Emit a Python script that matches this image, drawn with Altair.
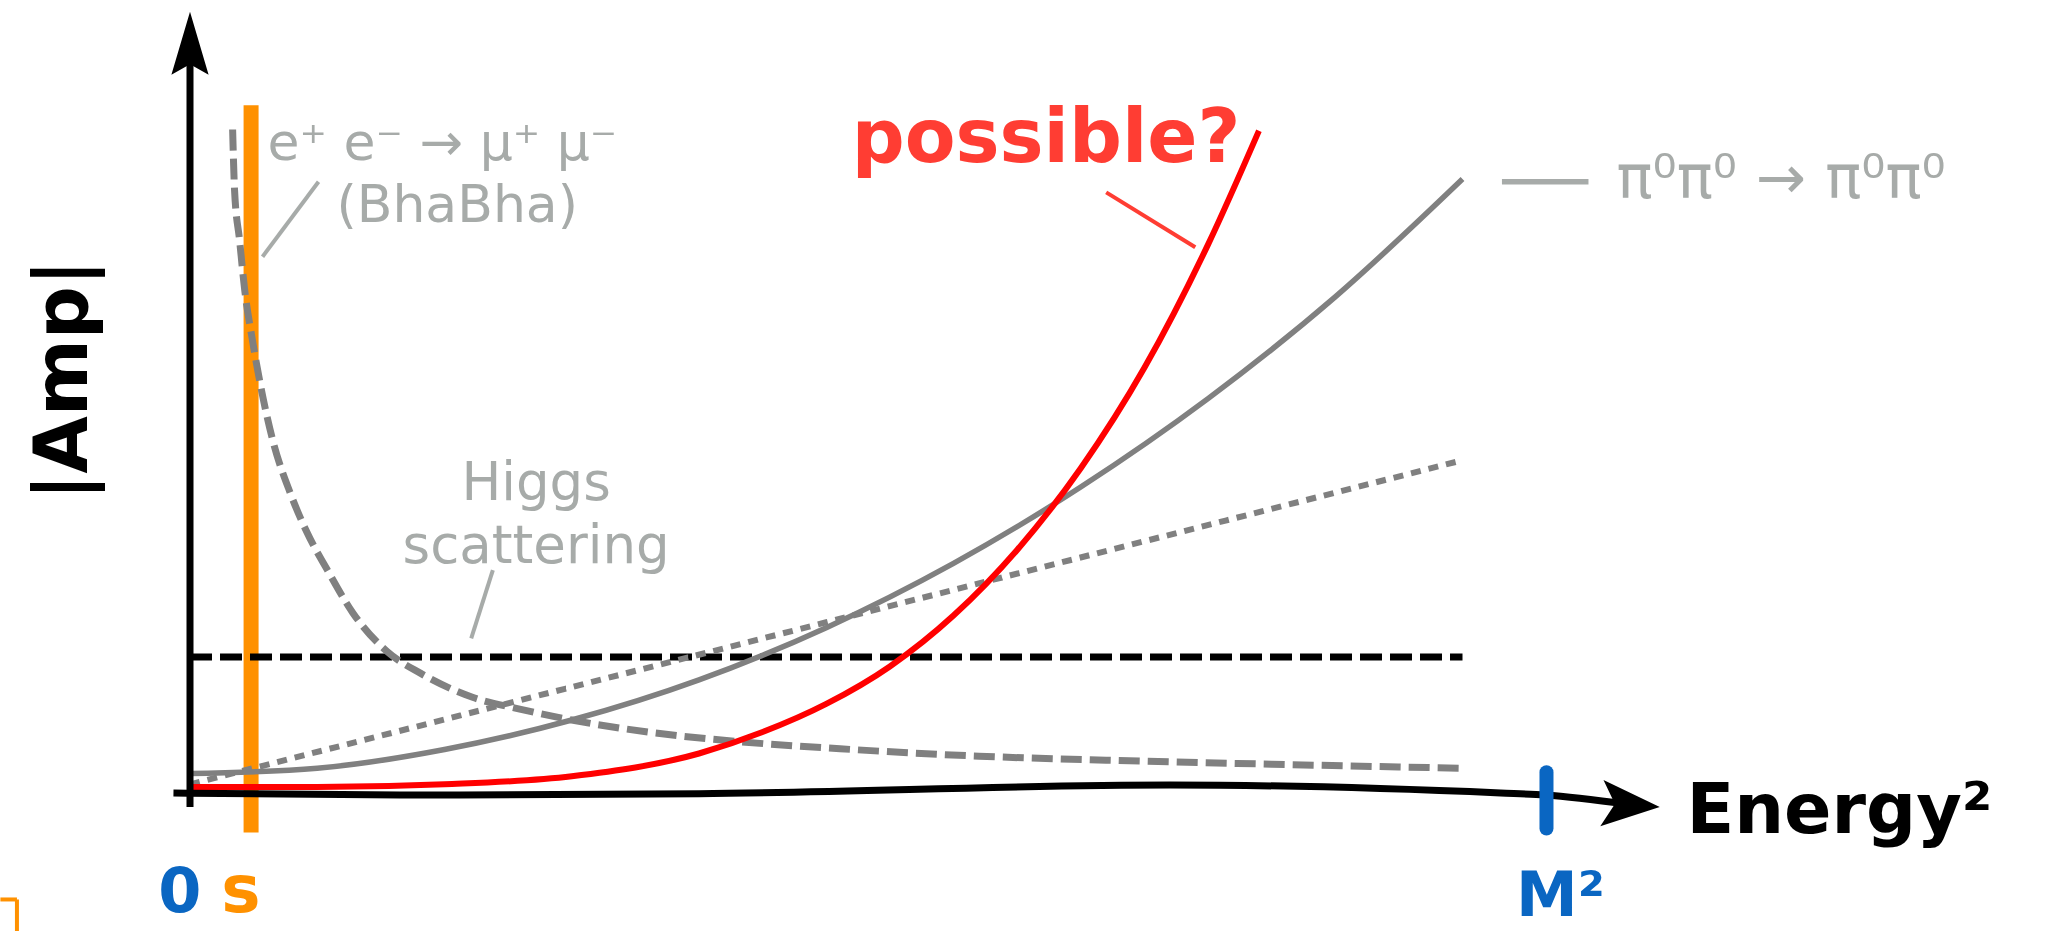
import altair as alt
import pandas as pd

# Energy^2 on the horizontal axis, |Amp| on the vertical one (arbitrary units,
# the unitarity bound sits at |Amp| = 1).
bound_energy = [0, 10]
bound_amp = [1, 1]

# e+ e- -> mu+ mu- : falls off like 1/s
bhabha_energy = [0.335, 0.35, 0.39, 0.43, 0.49, 0.55, 0.65, 0.79, 0.92, 1.08, 1.28, 1.55,
                 1.81, 2.22, 2.6, 3.0, 3.6, 4.3, 5.2, 6.2, 7.2, 8.5, 10.0]
bhabha_amp = [4.94, 4.49, 4.11, 3.74, 3.37, 3.05, 2.62, 2.22, 1.93, 1.65, 1.33, 1.04,
              0.88, 0.70, 0.61, 0.53, 0.44, 0.37, 0.31, 0.26, 0.23, 0.20, 0.17]

# Higgs scattering: grows linearly
higgs_energy = [0, 5, 10]
higgs_amp = [0.05, 1.26, 2.47]

# pi0 pi0 -> pi0 pi0: grows like s^2
pion_energy = [0, 1, 2, 3, 4, 5, 6, 7, 8, 9, 10]
pion_amp = [0.13, 0.17, 0.31, 0.53, 0.83, 1.22, 1.70, 2.27, 2.93, 3.69, 4.57]

# the "possible?" curve: steep rise
steep_energy = [0, 1, 2, 3, 4, 4.5, 5, 5.5, 6, 6.5, 7, 7.5, 8, 8.4]
steep_amp = [0.03, 0.03, 0.05, 0.11, 0.28, 0.44, 0.65, 0.93, 1.31, 1.80, 2.41, 3.16, 4.08, 4.93]

# hand-drawn energy axis (slightly wavy)
axis_energy = [-0.13, 1.65, 4.0, 7.7, 10.3, 10.65, 11.3]
axis_amp = [-0.015, -0.03, -0.02, 0.045, -0.015, -0.03, -0.1]

s_energy = 0.48     # the scale s
m2_energy = 10.66   # the heavy mass M^2

GRAY = "#808080"
NOTE = "#a7aba9"
RED = "#ff0000"
RED_TEXT = "#ff3d33"
ORANGE = "#ff9100"
BLUE = "#0a66c2"
FONT = "DejaVu Sans"

XS = alt.Scale(domain=[0, 12], nice=False, zero=False)
YS = alt.Scale(domain=[0, 5.75], nice=False, zero=False)


def curve(xs, ys, **style):
    df = pd.DataFrame({"energy": xs, "amp": ys})
    return alt.Chart(df).mark_line(interpolate="monotone", **style).encode(
        x=alt.X("energy:Q", scale=XS, axis=None),
        y=alt.Y("amp:Q", scale=YS, axis=None),
    )


def segment(x1, y1, x2, y2, **style):
    df = pd.DataFrame({"x1": [x1], "y1": [y1], "x2": [x2], "y2": [y2]})
    return alt.Chart(df).mark_rule(**style).encode(
        x=alt.X("x1:Q", scale=XS, axis=None),
        y=alt.Y("y1:Q", scale=YS, axis=None),
        x2="x2:Q",
        y2="y2:Q",
    )


def label(text, x, y, **style):
    df = pd.DataFrame({"x": [x], "y": [y], "t": [text]})
    return alt.Chart(df).mark_text(font=FONT, **style).encode(
        x=alt.X("x:Q", scale=XS, axis=None),
        y=alt.Y("y:Q", scale=YS, axis=None),
        text="t:N",
    )


def arrowhead(x, y, shape, size, angle=0):
    df = pd.DataFrame({"x": [x], "y": [y]})
    return alt.Chart(df).mark_point(
        shape=shape, size=size, angle=angle, filled=True, opacity=1,
        color="black", strokeWidth=0,
    ).encode(
        x=alt.X("x:Q", scale=XS, axis=None),
        y=alt.Y("y:Q", scale=YS, axis=None),
    )


layers = [
    # the scale s
    segment(s_energy, -0.31, s_energy, 5.12, color=ORANGE, strokeWidth=15),
    # small orange corner at the lower left
    segment(-1.49, -0.81, -1.36, -0.81, color=ORANGE, strokeWidth=4),
    segment(-1.36, -0.81, -1.36, -1.06, color=ORANGE, strokeWidth=4),
    # unitarity bound
    curve(bound_energy, bound_amp, color="black", strokeWidth=7, strokeDash=[22, 8]),
    curve(bhabha_energy, bhabha_amp, color=GRAY, strokeWidth=7, strokeDash=[21, 8]),
    curve(higgs_energy, higgs_amp, color=GRAY, strokeWidth=6, strokeDash=[10, 8]),
    curve(pion_energy, pion_amp, color=GRAY, strokeWidth=5.5),
    curve(steep_energy, steep_amp, color=RED, strokeWidth=6),
    # axes
    segment(0, -0.12, 0, 5.5, color="black", strokeWidth=7),
    curve(axis_energy, axis_amp, color="black", strokeWidth=7),
    arrowhead(0, 5.82, "M0,0 L-0.62,2.1 L0,1.75 L0.62,2.1 Z", 3600),
    arrowhead(11.55, -0.12, "M0,0 L-2,-0.8 L-1.55,0 L-2,0.8 Z", 3364, angle=4),
    # M^2 tick
    segment(m2_energy, 0.14, m2_energy, -0.28, color=BLUE, strokeWidth=14, strokeCap="round"),
    # leader lines
    segment(1.01, 4.55, 0.57, 3.99, color=NOTE, strokeWidth=4),
    segment(2.38, 1.65, 2.21, 1.14, color=NOTE, strokeWidth=4),
    segment(7.20, 4.47, 7.90, 4.06, color=RED_TEXT, strokeWidth=4),
    segment(10.31, 4.55, 10.99, 4.55, color=NOTE, strokeWidth=5.5),
    # texts
    label("|Amp|", -0.98, 3.07, angle=270, align="center", baseline="middle",
          fontSize=74, fontWeight="bold", color="black"),
    label("Energy²", 11.76, -0.31, align="left", baseline="alphabetic",
          fontSize=70, fontWeight="bold", color="black"),
    label("possible?", 5.20, 4.70, align="left", baseline="alphabetic",
          fontSize=74, fontWeight="bold", color=RED_TEXT),
    label("e⁺ e⁻ → μ⁺ μ⁻", 0.61, 4.71, align="left", baseline="alphabetic",
          fontSize=52, color=NOTE),
    label("(BhaBha)", 2.10, 4.25, align="center", baseline="alphabetic",
          fontSize=52, color=NOTE),
    label("Higgs", 2.72, 2.17, align="center", baseline="alphabetic",
          fontSize=53, color=NOTE),
    label("scattering", 2.72, 1.70, align="center", baseline="alphabetic",
          fontSize=53, color=NOTE),
    label("π⁰π⁰ → π⁰π⁰", 11.21, 4.43, align="left", baseline="alphabetic",
          fontSize=60, color=NOTE),
    label("M²", 10.77, -0.93, align="center", baseline="alphabetic",
          fontSize=62, fontWeight="bold", color=BLUE),
    label("0", -0.08, -0.9, align="center", baseline="alphabetic",
          fontSize=62, fontWeight="bold", color=BLUE),
    label("s", 0.40, -0.9, align="center", baseline="alphabetic",
          fontSize=66, fontWeight="bold", color=ORANGE),
]

chart = alt.layer(*layers).properties(
    width=1527,
    height=770,
    padding={"left": 190, "top": 21, "right": 333, "bottom": 140},
    autosize=alt.AutoSizeParams(type="none"),
    background="white",
).configure_view(stroke=None)

chart.save("out.html", embed_options={"renderer": "svg", "actions": False})
